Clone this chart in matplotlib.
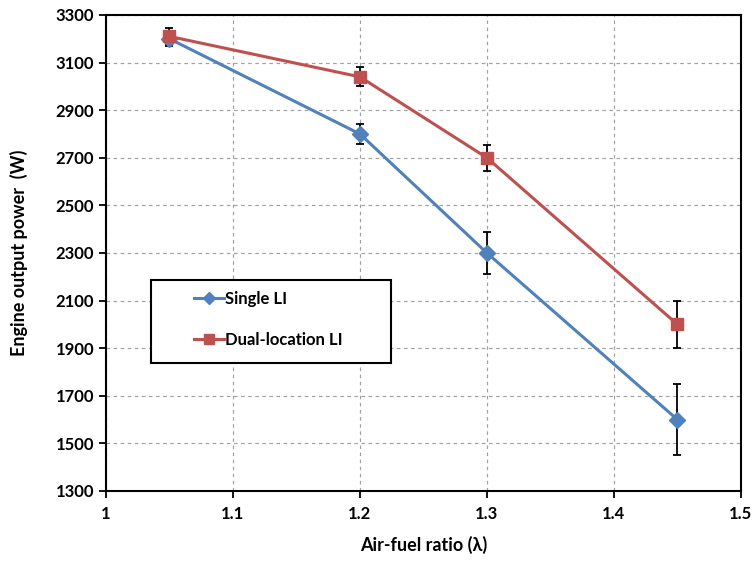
import matplotlib
matplotlib.use("Agg")
import matplotlib.pyplot as plt
from matplotlib.lines import Line2D
from matplotlib.patches import Rectangle

lam = [1.05, 1.2, 1.3, 1.45]
single = [3200, 2800, 2300, 1600]
single_err = [30, 40, 90, 150]
dual = [3210, 3040, 2700, 2000]
dual_err = [35, 40, 55, 100]

plt.rcParams['font.family'] = ['Lato', 'DejaVu Sans']
plt.rcParams['font.weight'] = 'bold'

fig = plt.figure(figsize=(7.56, 5.61), dpi=100)
ax = fig.add_axes([0.1402, 0.1248, 0.8398, 0.8485])

blue = '#4F81BD'
red = '#C0504D'

ax.errorbar(lam, single, yerr=single_err, color=blue, lw=2.2, marker='D', ms=8,
            ecolor='black', elinewidth=1.3, capsize=3, capthick=1.3, zorder=3)
ax.errorbar(lam, dual, yerr=dual_err, color=red, lw=2.2, marker='s', ms=9,
            ecolor='black', elinewidth=1.3, capsize=3, capthick=1.3, zorder=3)

ax.set_xlim(1, 1.5)
ax.set_ylim(1300, 3300)
ax.set_xticks([1, 1.1, 1.2, 1.3, 1.4, 1.5])
ax.set_xticklabels(['1', '1.1', '1.2', '1.3', '1.4', '1.5'])
ax.set_yticks(range(1300, 3301, 200))
ax.grid(True, ls=(0, (3, 3)), color='#A0A0A0', lw=0.85)
ax.set_axisbelow(True)
for s in ax.spines.values():
    s.set_linewidth(1.5)
    s.set_color('black')
ax.tick_params(axis='both', labelsize=12, width=1.3, length=5, direction='out')
ax.tick_params(axis='x', pad=6)
ax.set_xlabel('Air-fuel ratio (λ)', fontsize=13, fontweight='bold', labelpad=10)
ax.set_ylabel('Engine output power  (W)', fontsize=13, fontweight='bold', labelpad=20)

# legend box
ax.add_patch(Rectangle((0.071, 0.269), 0.378, 0.174, transform=ax.transAxes,
                       facecolor='white', edgecolor='black', lw=1.5, zorder=4))
handles = [Line2D([], [], color=blue, lw=2.2, marker='D', ms=6),
           Line2D([], [], color=red, lw=2.2, marker='s', ms=7)]
labels = ['Single LI', 'Dual-location LI']
leg = ax.legend(handles, labels, loc='upper left', bbox_to_anchor=(0.138, 0.42),
                fontsize=12, frameon=False, borderpad=0, labelspacing=1.5,
                handlelength=1.8, handletextpad=0.1, borderaxespad=0)
leg.set_zorder(5)

fig.savefig('out.png', dpi=100)
